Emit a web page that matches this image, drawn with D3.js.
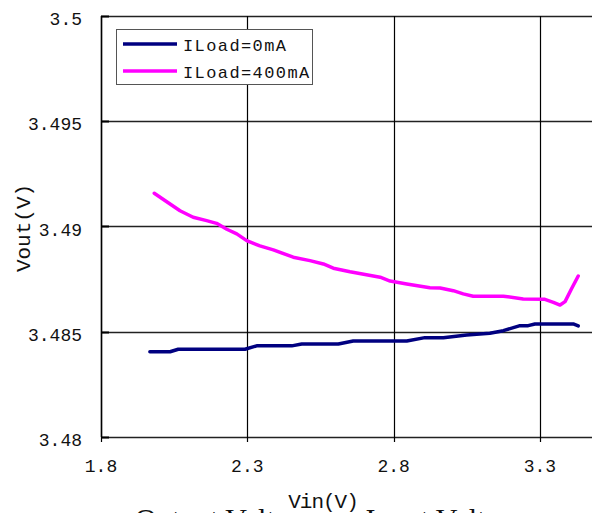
<!DOCTYPE html>
<html>
<head>
<meta charset="utf-8">
<script src="https://d3js.org/d3.v7.min.js"></script>
<style>
  body { margin: 0; background: #fff; }
  svg { display: block; }
</style>
</head>
<body>
<div id="chart"></div>
<script>
// Vout vs Vin readings
const vin0 = [1.967, 2.036, 2.064, 2.292, 2.332, 2.452, 2.486, 2.611, 2.662, 2.845, 2.907, 2.970, 3.050, 3.129, 3.175, 3.232, 3.260, 3.283, 3.414, 3.431];
const vout0 = [3.48405, 3.48405, 3.48417, 3.48417, 3.48433, 3.48433, 3.48442, 3.48442, 3.48456, 3.48456, 3.48472, 3.48472, 3.48485, 3.48493, 3.48505, 3.48529, 3.48529, 3.48537, 3.48537, 3.48528];

const vin400 = [1.982, 2.070, 2.115, 2.161, 2.195, 2.230, 2.264, 2.298, 2.343, 2.389, 2.457, 2.514, 2.560, 2.594, 2.651, 2.754, 2.788, 2.845, 2.924, 2.959, 3.004, 3.038, 3.072, 3.175, 3.243, 3.317, 3.346, 3.369, 3.386, 3.409, 3.431];
const vout400 = [3.49158, 3.49075, 3.49044, 3.49028, 3.49015, 3.48987, 3.48965, 3.48933, 3.48908, 3.48889, 3.48854, 3.48838, 3.48822, 3.48802, 3.48785, 3.48759, 3.48741, 3.48727, 3.48709, 3.48708, 3.48695, 3.48680, 3.48669, 3.48669, 3.48656, 3.48654, 3.48640, 3.48627, 3.48643, 3.48707, 3.48765];

const xTicks = [1.8, 2.3, 2.8, 3.3, 3.8];
const yTicks = [3.48, 3.485, 3.49, 3.495, 3.5];
const seriesNames = ["ILoad=0mA", "ILoad=400mA"];
const seriesColors = ["#000080", "#ff00ff"];

const W = 592, H = 513;
const plotLeft = 101, plotTop = 16, plotBottom = 437;

const svg = d3.select("#chart").append("svg")
  .attr("width", W)
  .attr("height", H);

// x axis runs past the right edge of the picture (cropped like the original)
const x = d3.scaleLinear().domain([1.8, 3.8]).range([plotLeft, plotLeft + 2 * 292.6]);
const y = d3.scaleLinear().domain([3.48, 3.5]).range([plotBottom, plotTop]);

const mono = "'Liberation Mono', 'DejaVu Sans Mono', monospace";

// grid lines
svg.append("g").selectAll("line.h")
  .data(yTicks)
  .enter().append("line")
  .attr("x1", plotLeft).attr("x2", W + 100)
  .attr("y1", d => Math.round(y(d)) + 0.5)
  .attr("y2", d => Math.round(y(d)) + 0.5)
  .style("stroke", "#222")
  .style("stroke-width", 1.6);

svg.append("g").selectAll("line.v")
  .data(xTicks)
  .enter().append("line")
  .attr("x1", d => Math.round(x(d)) + 0.5)
  .attr("x2", d => Math.round(x(d)) + 0.5)
  .attr("y1", plotTop).attr("y2", plotBottom + 5)
  .style("stroke", "#000")
  .style("stroke-width", 1.2);

// left axis line and inward ticks
svg.append("line")
  .attr("x1", plotLeft + 0.5).attr("x2", plotLeft + 0.5)
  .attr("y1", plotTop).attr("y2", plotBottom)
  .style("stroke", "#000").style("stroke-width", 1.5);

svg.append("g").selectAll("line")
  .data(yTicks)
  .enter().append("line")
  .attr("x1", plotLeft).attr("x2", plotLeft + 8)
  .attr("y1", d => Math.round(y(d)) + 0.5)
  .attr("y2", d => Math.round(y(d)) + 0.5)
  .style("stroke", "#000").style("stroke-width", 2);

// tick labels
svg.append("g").selectAll("text")
  .data(yTicks)
  .enter().append("text")
  .attr("x", 82)
  .attr("y", d => y(d) + 9)
  .attr("text-anchor", "end")
  .style("font-family", mono)
  .style("font-size", "18px")
  .style("fill", "#111")
  .text(d => String(d));

svg.append("g").selectAll("text")
  .data(xTicks.slice(0, 4))
  .enter().append("text")
  .attr("x", d => x(d))
  .attr("y", 472)
  .attr("text-anchor", "middle")
  .style("font-family", mono)
  .style("font-size", "18px")
  .style("fill", "#111")
  .text(d => d.toFixed(1));

// axis titles
svg.append("text")
  .attr("x", 323).attr("y", 508)
  .attr("text-anchor", "middle")
  .style("font-family", mono)
  .style("font-size", "21px")
  .style("letter-spacing", "-1px")
  .style("fill", "#111")
  .text("Vin(V)");

svg.append("text")
  .attr("transform", "translate(30,228) rotate(-90)")
  .attr("text-anchor", "middle")
  .style("font-family", mono)
  .style("font-size", "21px")
  .style("fill", "#111")
  .text("Vout(V)");

// caption cut off at the bottom
svg.append("text")
  .attr("x", 135).attr("y", 529)
  .style("font-family", "'Liberation Serif', serif")
  .style("font-size", "30px")
  .style("fill", "#111")
  .text("Output Voltage vs. Input Voltage");

// lines
const line = d3.line()
  .x(d => x(d[0]))
  .y(d => y(d[1]));

const series = [d3.zip(vin0, vout0), d3.zip(vin400, vout400)];

svg.append("g").selectAll("path")
  .data(series)
  .enter().append("path")
  .attr("d", line)
  .style("fill", "none")
  .style("stroke", (d, i) => seriesColors[i])
  .style("stroke-width", 3.5)
  .style("stroke-linejoin", "round")
  .style("stroke-linecap", "round");

// legend
const legend = svg.append("g");
legend.append("rect")
  .attr("x", 116.5).attr("y", 29.5)
  .attr("width", 196).attr("height", 55)
  .style("fill", "#fff")
  .style("stroke", "#555")
  .style("stroke-width", 1);

const items = legend.selectAll("g.item")
  .data(seriesNames)
  .enter().append("g")
  .attr("transform", (d, i) => `translate(0,${44 + i * 27})`);

items.append("line")
  .attr("x1", 123).attr("x2", 177)
  .attr("y1", 0).attr("y2", 0)
  .style("stroke", (d, i) => seriesColors[i])
  .style("stroke-width", 3.5);

items.append("text")
  .attr("x", 183).attr("y", 7)
  .style("font-family", mono)
  .style("font-size", "17px")
  .style("letter-spacing", "1.4px")
  .style("fill", "#111")
  .text(d => d);
</script>
</body>
</html>
